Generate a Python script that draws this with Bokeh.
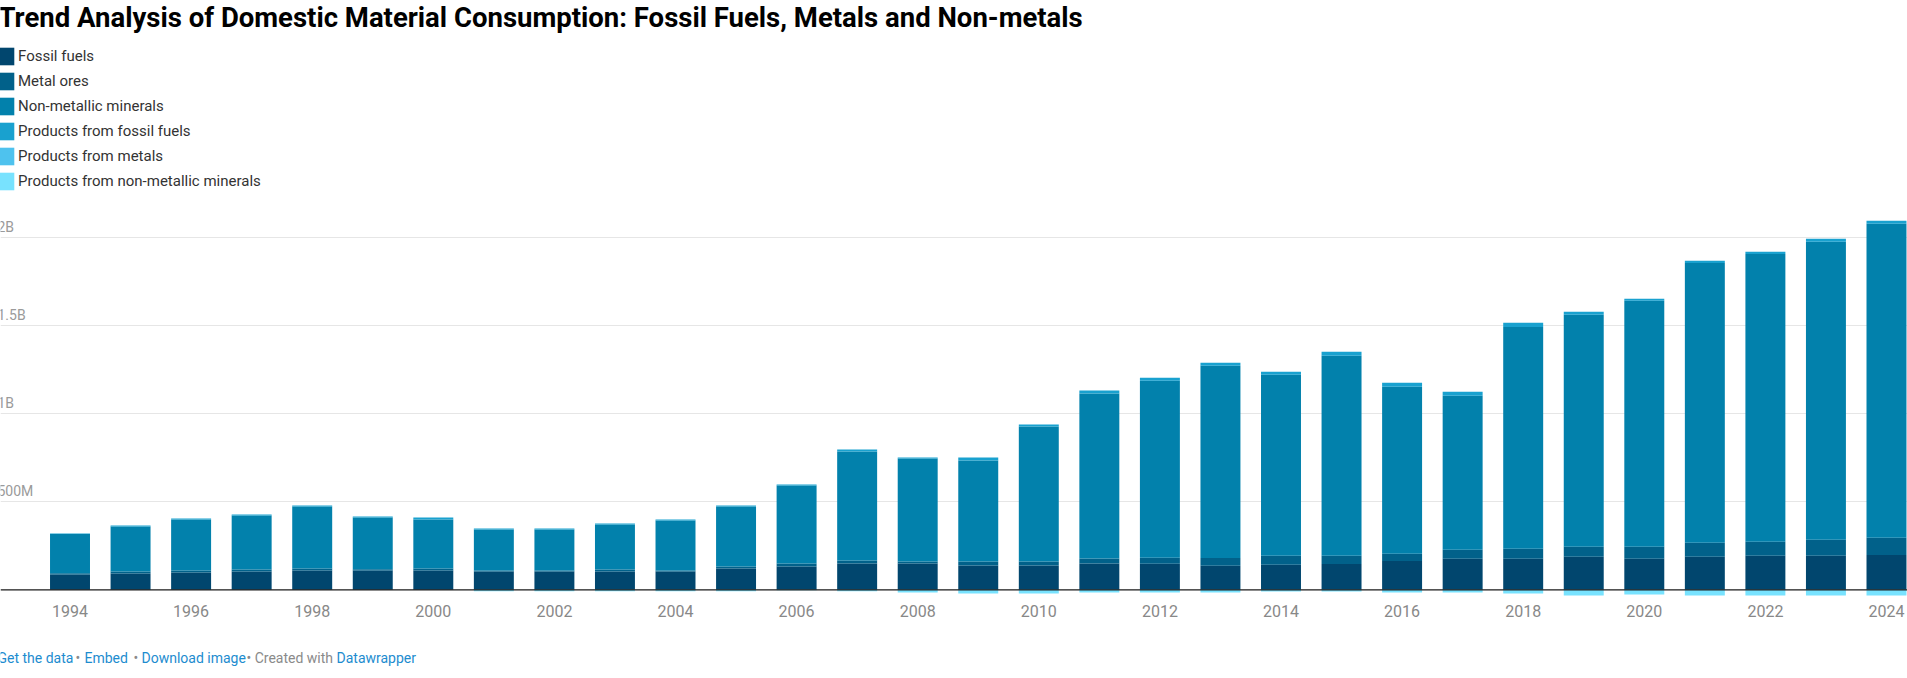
from bokeh.plotting import figure
from bokeh.models import (ColumnDataSource, Range1d, FixedTicker, Label, Legend,
                          LegendItem, Span, Grid)
from bokeh.core.properties import value
from bokeh.embed import file_html
from bokeh.resources import INLINE

# Domestic material consumption by material group, million tonnes
years = list(range(1994, 2025))
fossil_fuels = [87, 93, 98, 104, 110, 110, 110, 104, 104, 104, 104, 121, 132, 149, 149, 138,
                138, 149, 148, 136, 142, 147, 164, 176, 176, 187, 176, 187, 193, 193, 198]
metal_ores = [7, 11, 12, 11, 11, 7, 11, 6, 6, 11, 6, 11, 17, 17, 12, 23,
              23, 29, 34, 45, 51, 46, 40, 51, 57, 57, 68, 80, 79, 91, 97]
non_metallic_minerals = [222, 255, 289, 307, 352, 293, 278, 232, 232, 255, 283, 341, 442, 618, 584, 572,
                         765, 935, 1004, 1089, 1026, 1134, 947, 873, 1258, 1316, 1395, 1587, 1633, 1690, 1781]
products_fossil = [4, 6, 6, 5, 5, 6, 11, 6, 6, 6, 6, 5, 6, 12, 5, 17,
                   12, 17, 17, 17, 17, 23, 23, 23, 23, 17, 11, 12, 12, 17, 17]
products_metals = [0, 0, 0, 0, 0, 0, 0, 0, 0, 0, 0, 0, 0, 0, 0, 0,
                   0, 0, 0, 0, 0, 0, 0, 0, 0, 0, 0, 0, 0, 0, 0]
products_non_metallic = [0, 0, 0, 0, 0, 0, 0, -8, -8, -8, -8, -8, -2, -8, -15, -21,
                         -21, -15, -15, -15, -9, -9, -15, -15, -21, -32, -26, -32, -32, -32, -32]

series_names = ["Fossil fuels", "Metal ores", "Non-metallic minerals",
                "Products from fossil fuels", "Products from metals",
                "Products from non-metallic minerals"]
colors = ["#01466e", "#01618a", "#0281ac", "#19a1cf", "#4ec2ee", "#78e2fe"]

tick_years = years[::2]
tick_labels = [str(y) for y in tick_years]
grid_values = [500, 1000, 1500, 2000]
grid_labels = ["500M", "1B", "1.5B", "2B"]

title = "Trend Analysis of Domestic Material Consumption: Fossil Fuels, Metals and Non-metals"

W, H = 1907, 678
FONT = "Roboto"

x_start, x_end = 1992.852, 2024.347
p = figure(width=W, height=H, x_range=Range1d(x_start, x_end), y_range=Range1d(-503.0, 3342),
           output_backend="svg", toolbar_location=None, x_axis_location=None,
           y_axis_location=None, min_border=0)
p.outline_line_color = None
p.background_fill_color = "white"
p.border_fill_color = "white"
for g in p.grid:
    g.visible = False

grid = Grid(dimension=1, ticker=FixedTicker(ticks=grid_values),
            grid_line_color="#e6e6e6", grid_line_width=1)
p.add_layout(grid)

src = ColumnDataSource(dict(year=years, fossil=fossil_fuels, metal=metal_ores,
                            nonmet=non_metallic_minerals, pfossil=products_fossil,
                            pmetal=products_metals, pnonmet=products_non_metallic))

bar_w = 0.66
stack = p.vbar_stack(["fossil", "metal", "nonmet", "pfossil", "pmetal"], x="year",
                     width=bar_w, fill_color=colors[:5], line_color=None, source=src)
neg = p.vbar(x="year", top="pnonmet", bottom=0, width=bar_w, fill_color=colors[5],
             line_color=None, source=src)

p.add_layout(Span(location=0, dimension="width", line_color="#1a1a1a", line_width=1.3))

# value labels sitting above the gridlines at the left edge
p.text(x=[x_start] * len(grid_values), y=grid_values, text=grid_labels,
       x_offset=-3, y_offset=-10.5, text_font=value(FONT), text_font_size="14px",
       text_color="#9a9a9a", text_baseline="middle", text_align="left")

# year labels under the baseline
p.text(x=tick_years, y=[0] * len(tick_years), text=tick_labels, y_offset=21.5,
       text_font=value(FONT), text_font_size="16px", text_color="#888888",
       text_baseline="middle", text_align="center")

renderers = list(stack) + [neg]
items = [LegendItem(label=n, renderers=[r]) for n, r in zip(series_names, renderers)]
legend = Legend(items=items, location=(-6, H - 192), orientation="vertical",
                glyph_width=22, glyph_height=22, spacing=3, padding=0, margin=0,
                label_standoff=2, label_height=18, label_text_font=FONT,
                label_text_font_size="15px", label_text_color="#333333",
                border_line_color=None, background_fill_alpha=0)
p.add_layout(legend)

p.add_layout(Label(x=-2, y=H - 17, x_units="screen", y_units="screen", text=title,
                   text_font=FONT, text_font_size="27.5px", text_font_style="bold",
                   text_color="#000000", text_baseline="middle"))

# footer links
link = "#1d8ccf"
grey = "#8a8a8a"
footer = [("Get the data", -3, link), ("\u2022", 75, grey), ("Embed", 84, link),
          ("\u2022", 133, grey), ("Download image", 141, link),
          ("\u2022 Created with", 246, grey), ("Datawrapper", 336, link)]
for txt, fx, col in footer:
    p.add_layout(Label(x=fx, y=H - 657.5, x_units="screen", y_units="screen", text=txt,
                       text_font=FONT, text_font_size="14px", text_color=col,
                       text_baseline="middle"))

open("out.html", "w").write(file_html(p, INLINE))
